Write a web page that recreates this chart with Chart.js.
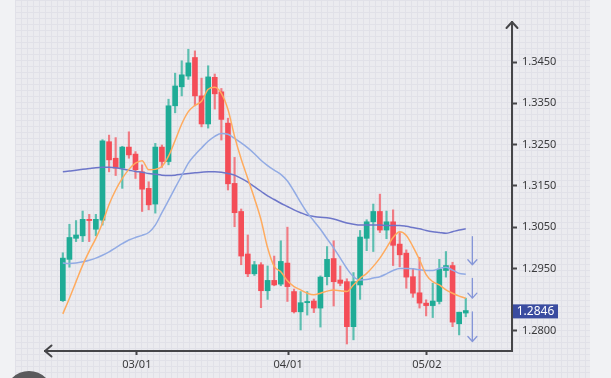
<!DOCTYPE html>
<html>
<head>
<meta charset="utf-8">
<script src="https://cdn.jsdelivr.net/npm/chart.js@4.4.1/dist/chart.umd.min.js"></script>
<style>
  html, body { margin: 0; padding: 0; background: #f1f2f4; }
  #wrap { width: 611px; height: 378px; }
</style>
</head>
<body>
<div id="wrap"><canvas id="chart" width="611" height="378"></canvas></div>
<script>
// daily candles, one per trading day (index 0..61)
const opens = [1.2872, 1.2972, 1.3023, 1.3029, 1.3069, 1.3045, 1.3067, 1.3257, 1.3217, 1.3193,
  1.3244, 1.3227, 1.3184, 1.3144, 1.3106, 1.3244, 1.3209, 1.3344, 1.3390, 1.3416,
  1.3461, 1.3368, 1.3300, 1.3413, 1.3378, 1.3302, 1.3156, 1.3088, 1.2985, 1.2937,
  1.2959, 1.2896, 1.2921, 1.2912, 1.2963, 1.2894, 1.2845, 1.2867, 1.2871, 1.2854,
  1.2930, 1.2974, 1.2922, 1.2918, 1.2809, 1.2910, 1.3023, 1.3063, 1.3088, 1.3043,
  1.3063, 1.3009, 1.2987, 1.2930, 1.2891, 1.2866, 1.2860, 1.2870, 1.2945, 1.2957,
  1.2816, 1.2842];
const highs = [1.2988, 1.3057, 1.3066, 1.3089, 1.3081, 1.3081, 1.3262, 1.3273, 1.3267, 1.3246,
  1.3281, 1.3233, 1.3201, 1.3160, 1.3253, 1.3249, 1.3360, 1.3423, 1.3453, 1.3481,
  1.3477, 1.3411, 1.3441, 1.3421, 1.3386, 1.3314, 1.3219, 1.3094, 1.3031, 1.2967,
  1.2964, 1.2956, 1.2980, 1.3017, 1.3050, 1.2900, 1.2894, 1.2894, 1.2876, 1.2932,
  1.3003, 1.3017, 1.2956, 1.2925, 1.2940, 1.3042, 1.3068, 1.3106, 1.3130, 1.3089,
  1.3092, 1.3037, 1.2995, 1.2950, 1.2977, 1.2874, 1.2914, 1.2972, 1.2991, 1.2965,
  1.2844, 1.2878];
const lows = [1.2870, 1.2953, 1.3015, 1.3015, 1.3015, 1.3029, 1.3055, 1.3184, 1.3175, 1.3144,
  1.3217, 1.3168, 1.3088, 1.3092, 1.3084, 1.3195, 1.3201, 1.3327, 1.3368, 1.3408,
  1.3344, 1.3293, 1.3290, 1.3336, 1.3261, 1.3140, 1.3051, 1.2959, 1.2930, 1.2933,
  1.2855, 1.2875, 1.2908, 1.2908, 1.2870, 1.2842, 1.2801, 1.2837, 1.2843, 1.2808,
  1.2910, 1.2859, 1.2908, 1.2767, 1.2777, 1.2875, 1.2993, 1.2991, 1.3037, 1.3022,
  1.2957, 1.2954, 1.2902, 1.2880, 1.2854, 1.2835, 1.2831, 1.2864, 1.2929, 1.2809,
  1.2789, 1.2833];
const closes = [1.2975, 1.3025, 1.3031, 1.3069, 1.3066, 1.3069, 1.3259, 1.3213, 1.3193, 1.3244,
  1.3225, 1.3189, 1.3142, 1.3104, 1.3244, 1.3209, 1.3344, 1.3392, 1.3419, 1.3448,
  1.3368, 1.3300, 1.3414, 1.3373, 1.3311, 1.3155, 1.3085, 1.2980, 1.2937, 1.2959,
  1.2896, 1.2921, 1.2910, 1.2967, 1.2906, 1.2845, 1.2867, 1.2870, 1.2854, 1.2929,
  1.2972, 1.2918, 1.2914, 1.2809, 1.2918, 1.3026, 1.3063, 1.3088, 1.3043, 1.3063,
  1.3006, 1.2983, 1.2929, 1.2890, 1.2866, 1.2860, 1.2871, 1.2948, 1.2957, 1.2820,
  1.2844, 1.2848];

// moving averages
const maFast = [1.2840, 1.2878, 1.2918, 1.2958, 1.2992, 1.3023, 1.3060, 1.3105, 1.3140, 1.3168,
  1.3190, 1.3205, 1.3211, 1.3189, 1.3190, 1.3197, 1.3222, 1.3260, 1.3300, 1.3330,
  1.3345, 1.3355, 1.3384, 1.3389, 1.3374, 1.3335, 1.3270, 1.3215, 1.3168, 1.3120,
  1.3068, 1.3000, 1.2955, 1.2942, 1.2920, 1.2906, 1.2898, 1.2890, 1.2886, 1.2890,
  1.2895, 1.2898, 1.2896, 1.2894, 1.2910, 1.2926, 1.2938, 1.2955, 1.2975, 1.3000,
  1.3025, 1.3039, 1.3030, 1.3003, 1.2971, 1.2935, 1.2918, 1.2910, 1.2898, 1.2890,
  1.2883, 1.2878];
const maMid = [1.2963, 1.2962, 1.2963, 1.2966, 1.2970, 1.2975, 1.2982, 1.2990, 1.3000, 1.3010,
  1.3019, 1.3025, 1.3030, 1.3037, 1.3055, 1.3085, 1.3115, 1.3145, 1.3175, 1.3205,
  1.3225, 1.3242, 1.3258, 1.3270, 1.3277, 1.3275, 1.3265, 1.3254, 1.3242, 1.3228,
  1.3212, 1.3199, 1.3188, 1.3178, 1.3162, 1.3137, 1.3110, 1.3085, 1.3065, 1.3045,
  1.3022, 1.3000, 1.2975, 1.2950, 1.2930, 1.2922, 1.2923, 1.2927, 1.2930, 1.2937,
  1.2945, 1.2950, 1.2950, 1.2949, 1.2947, 1.2945, 1.2945, 1.2950, 1.2953, 1.2946,
  1.2938, 1.2936];
const maSlow = [1.3184, 1.3186, 1.3188, 1.3190, 1.3192, 1.3194, 1.3195, 1.3195, 1.3194, 1.3191,
  1.3188, 1.3185, 1.3183, 1.3180, 1.3178, 1.3176, 1.3175, 1.3176, 1.3178, 1.3180,
  1.3182, 1.3183, 1.3184, 1.3184, 1.3183, 1.3180, 1.3176, 1.3168, 1.3159, 1.3148,
  1.3137, 1.3126, 1.3117, 1.3108, 1.3100, 1.3092, 1.3085, 1.3079, 1.3076, 1.3074,
  1.3073, 1.3070, 1.3065, 1.3060, 1.3057, 1.3055, 1.3055, 1.3055, 1.3055, 1.3054,
  1.3054, 1.3054, 1.3052, 1.3049, 1.3046, 1.3042, 1.3039, 1.3037, 1.3035, 1.3039,
  1.3043, 1.3046];

const dateLabels = ['03/01', '04/01', '05/02'];
const datePositions = [11.2, 34.1, 55.1];
const priceTicks = [1.2800, 1.2950, 1.3050, 1.3150, 1.3250, 1.3350, 1.3450];
const lastPrice = 1.2846;
// [index, from price, to price]
const signalArrows = [[62, 1.3027, 1.2959], [62, 1.2926, 1.2878], [62, 1.2845, 1.2773]];

const UP = '#1fac96';
const DOWN = '#f44d57';
const UP_WICK = 'rgba(31,172,150,0.7)';
const DOWN_WICK = 'rgba(244,77,87,0.7)';
const FONT = '"Noto Sans", "DejaVu Sans", sans-serif';

const isUp = opens.map((o, i) => closes[i] >= o);
const bodies = opens.map((o, i) => ({ x: i, y: [o, closes[i]] }));
const wicks = lows.map((l, i) => ({ x: i, y: [l, highs[i]] }));
const toXY = arr => arr.map((v, i) => ({ x: i, y: v }));

const backdrop = {
  id: 'backdrop',
  beforeDraw(chart) {
    const ctx = chart.ctx;
    ctx.save();
    ctx.fillStyle = '#f1f2f4';
    ctx.fillRect(0, 0, chart.width, chart.height);
    ctx.fillStyle = '#ebebef';
    ctx.fillRect(15, 0, 575, chart.height);
    ctx.strokeStyle = '#e1e1e8';
    ctx.lineWidth = 1;
    ctx.beginPath();
    for (let x = 15.5; x < 590; x += 6) { ctx.moveTo(x, 0); ctx.lineTo(x, chart.height); }
    for (let y = 0.5; y < chart.height; y += 6) { ctx.moveTo(15, y); ctx.lineTo(590, y); }
    ctx.stroke();
    // dark round thing in the bottom-left corner
    ctx.fillStyle = '#5a5a5c';
    ctx.beginPath();
    ctx.arc(29, 395, 24, 0, Math.PI * 2);
    ctx.fill();
    ctx.restore();
  }
};

const overlay = {
  id: 'overlay',
  afterDraw(chart) {
    const { ctx, chartArea: a, scales: { x, y } } = chart;
    ctx.save();
    ctx.strokeStyle = '#454548';
    ctx.lineWidth = 2;
    ctx.lineCap = 'round';
    ctx.lineJoin = 'round';
    ctx.beginPath();
    ctx.moveTo(a.right - 5.5, a.top + 6);
    ctx.lineTo(a.right, a.top);
    ctx.lineTo(a.right + 5.5, a.top + 6);
    ctx.moveTo(a.left + 6.5, a.bottom - 5.5);
    ctx.lineTo(a.left, a.bottom);
    ctx.lineTo(a.left + 6.5, a.bottom + 5.5);
    ctx.stroke();

    ctx.strokeStyle = '#8596d8';
    ctx.lineWidth = 1.3;
    signalArrows.forEach(([i, from, to]) => {
      const px = x.getPixelForValue(i);
      const y0 = y.getPixelForValue(from);
      const y1 = y.getPixelForValue(to);
      ctx.beginPath();
      ctx.moveTo(px, y0);
      ctx.lineTo(px, y1);
      ctx.moveTo(px - 4.5, y1 - 5);
      ctx.lineTo(px, y1);
      ctx.lineTo(px + 4.5, y1 - 5);
      ctx.stroke();
    });

    // last price badge
    const by = y.getPixelForValue(lastPrice);
    ctx.fillStyle = '#3a4ca0';
    ctx.fillRect(a.right + 1, by - 7, 45, 14);
    ctx.fillStyle = '#ffffff';
    ctx.font = '12px ' + FONT;
    ctx.textAlign = 'center';
    ctx.textBaseline = 'middle';
    ctx.fillText(lastPrice.toFixed(4), a.right + 23.5, by + 0.5);
    ctx.restore();
  }
};

const lineStyle = color => ({
  type: 'line',
  borderColor: color,
  borderWidth: 1.5,
  pointRadius: 0,
  tension: 0.4,
  cubicInterpolationMode: 'monotone',
  order: 0
});

new Chart(document.getElementById('chart'), {
  type: 'bar',
  data: {
    datasets: [
      { ...lineStyle('#ffab5e'), data: toXY(maFast) },
      { ...lineStyle('#92abe4'), data: toXY(maMid) },
      { ...lineStyle('#6d76c9'), data: toXY(maSlow) },
      {
        data: bodies,
        backgroundColor: isUp.map(u => u ? UP : DOWN),
        barThickness: 5,
        grouped: false,
        borderWidth: 0,
        borderSkipped: false,
        order: 1
      },
      {
        data: wicks,
        backgroundColor: isUp.map(u => u ? UP_WICK : DOWN_WICK),
        barThickness: 1.5,
        grouped: false,
        borderWidth: 0,
        borderSkipped: false,
        order: 2
      }
    ]
  },
  options: {
    responsive: false,
    devicePixelRatio: 1,
    animation: false,
    layout: { padding: { left: 45, top: 22, right: 0, bottom: 0 } },
    plugins: { legend: { display: false }, tooltip: { enabled: false } },
    scales: {
      x: {
        type: 'linear',
        min: -2.7,
        max: 68,
        offset: false,
        afterBuildTicks: s => { s.ticks = datePositions.map(v => ({ value: v })); },
        afterFit: s => { s.height = 27; },
        grid: { offset: false, drawOnChartArea: false, tickLength: 4, tickColor: '#454548', tickWidth: 2 },
        border: { color: '#454548', width: 2 },
        ticks: {
          autoSkip: false,
          maxRotation: 0,
          color: '#3a3a3c',
          padding: 3,
          font: { family: FONT, size: 11 },
          callback: (v, idx) => dateLabels[idx]
        }
      },
      y: {
        position: 'right',
        min: 1.2750,
        max: 1.3547,
        afterBuildTicks: s => { s.ticks = priceTicks.map(v => ({ value: v })); },
        afterFit: s => { s.width = 99; },
        grid: { drawOnChartArea: false, tickLength: 5, tickColor: '#454548', tickWidth: 2 },
        border: { color: '#454548', width: 2 },
        ticks: {
          autoSkip: false,
          color: '#3a3a3c',
          padding: 5,
          font: { family: FONT, size: 11 },
          callback: v => Number(v).toFixed(4)
        }
      }
    }
  },
  plugins: [backdrop, overlay]
});
</script>
</body>
</html>
